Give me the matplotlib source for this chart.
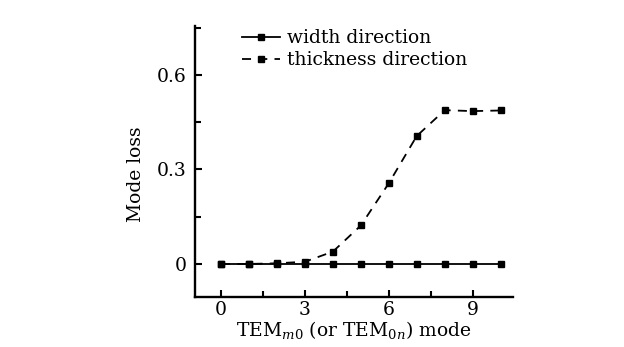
import numpy as np
import matplotlib.pyplot as plt
from matplotlib.ticker import MultipleLocator

plt.rcParams['font.family'] = 'DejaVu Serif'
plt.rcParams['mathtext.fontset'] = 'dejavuserif'

mode = [0, 1, 2, 3, 4, 5, 6, 7, 8, 9, 10]
width_loss = [0, 0, 0, 0, 0, 0, 0, 0, 0, 0, 0]
thickness_loss = [0, 0, 0.002, 0.007, 0.039, 0.122, 0.256, 0.406, 0.488, 0.485, 0.487]

fig = plt.figure(figsize=(6.24, 3.47), dpi=100)
ax = fig.add_axes([0.3125, 0.144, 0.51, 0.781])

ax.plot(mode, width_loss, '-', color='black', lw=1.3,
        marker='s', ms=5, label='width direction')
ax.plot(mode, thickness_loss, '--', color='black', lw=1.3,
        marker='s', ms=5, dashes=(5, 4), label='thickness direction')

ax.set_xlim(-0.93, 10.45)
ax.set_ylim(-0.105, 0.755)
ax.xaxis.set_major_locator(MultipleLocator(3))
ax.xaxis.set_minor_locator(MultipleLocator(1.5))
ax.yaxis.set_major_locator(MultipleLocator(0.3))
ax.yaxis.set_minor_locator(MultipleLocator(0.15))
ax.set_yticks([0, 0.3, 0.6])
ax.set_yticklabels(['0', '0.3', '0.6'])

for s in ['top', 'right']:
    ax.spines[s].set_visible(False)
for s in ['left', 'bottom']:
    ax.spines[s].set_linewidth(1.7)

ax.tick_params(which='both', direction='in', width=1.5, labelsize=13.5)
ax.tick_params(axis='x', pad=3)
ax.tick_params(axis='y', pad=6)
ax.tick_params(which='major', length=5)
ax.tick_params(which='minor', length=4)

ax.set_xlabel(r'TEM$_{m0}$ (or TEM$_{0n}$) mode', fontsize=13.5, labelpad=0)
ax.set_ylabel('Mode loss', fontsize=13.5)
ax.yaxis.set_label_coords(-0.157, 0.454)

ax.legend(loc='upper left', bbox_to_anchor=(0.125, 1.015), frameon=False,
          fontsize=13.5, handlelength=2.0, handletextpad=0.4,
          labelspacing=0.2, borderaxespad=0)

fig.savefig('out.png', dpi=100)
